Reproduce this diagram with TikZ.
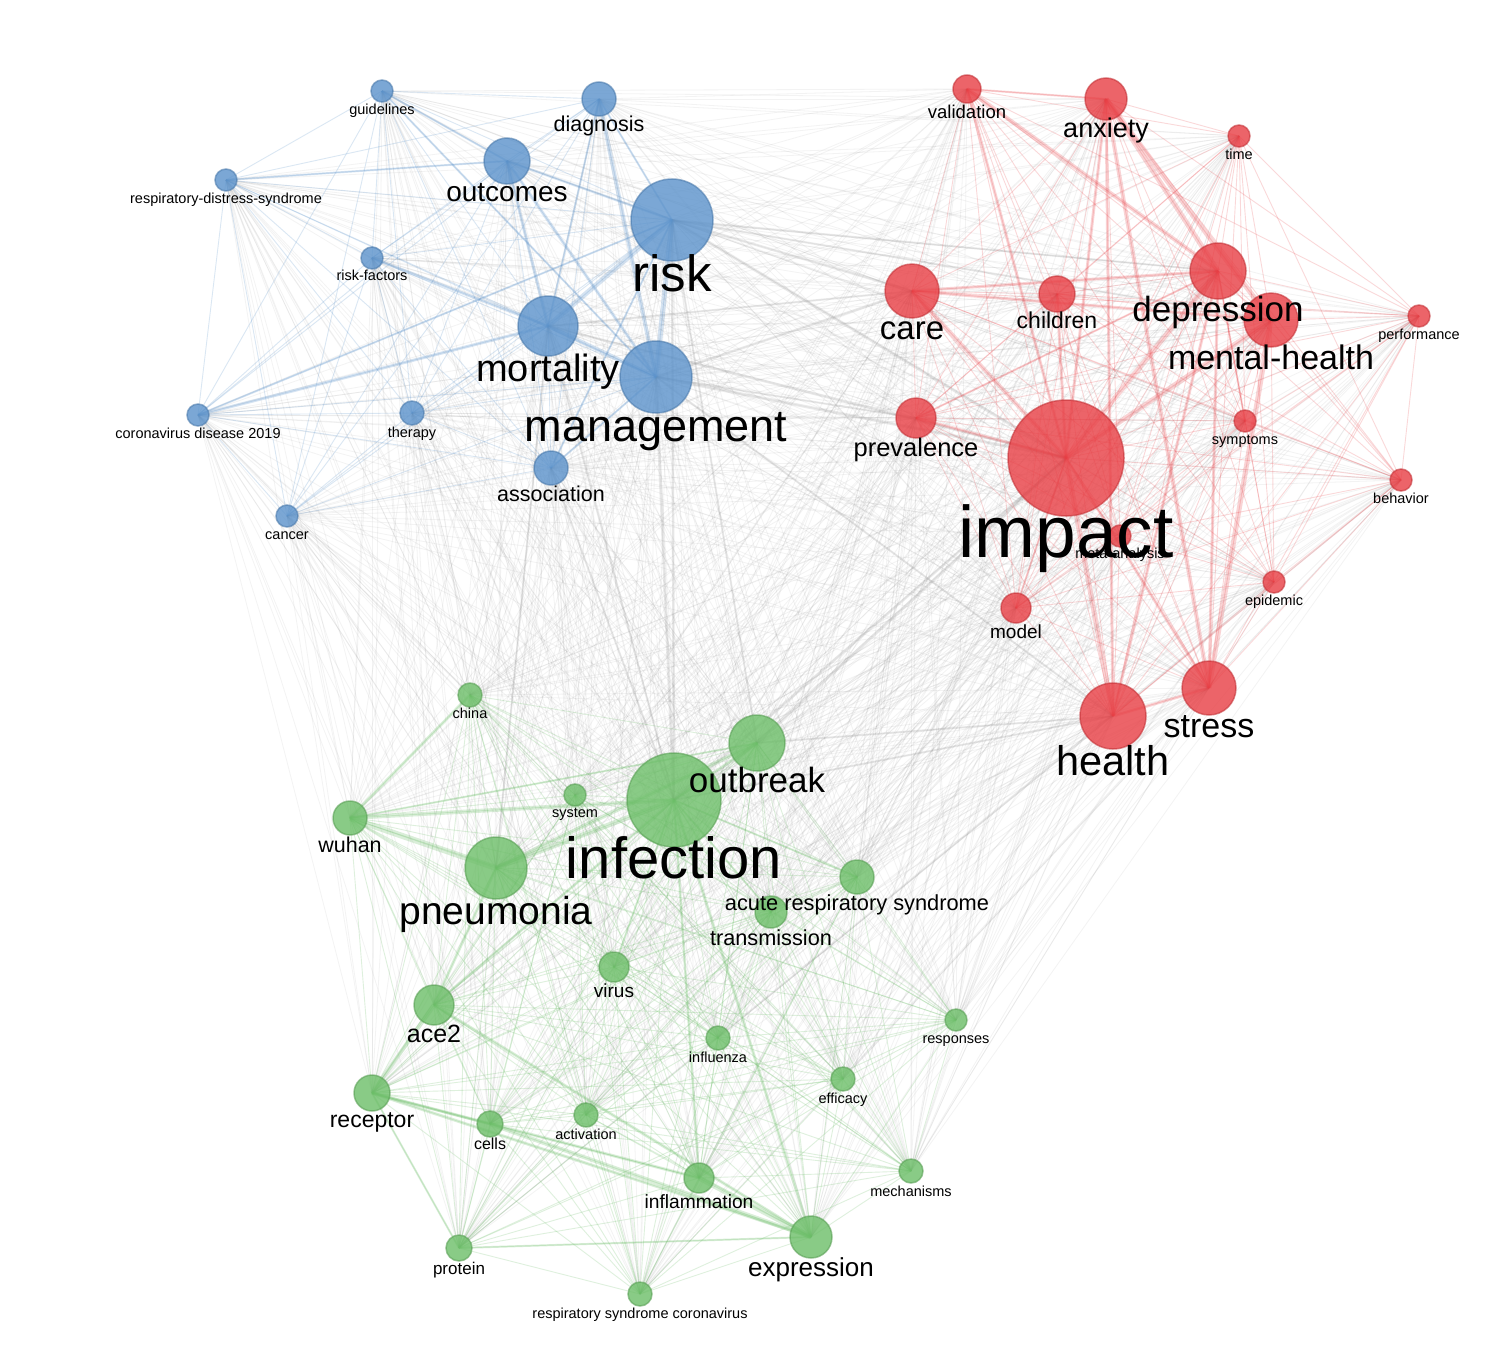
\documentclass[tikz,border=0pt]{standalone}
\usepackage{fontspec}
\setmainfont{Liberation Sans}
\pgfdeclarelayer{background}
\pgfdeclarelayer{foreground}
\pgfsetlayers{background,main,foreground}
\definecolor{bC}{RGB}{91,146,203}
\definecolor{rC}{RGB}{232,62,68}
\definecolor{gC}{RGB}{108,190,104}
\definecolor{eC}{RGB}{140,140,140}
\tikzset{
  bN/.style={circle,inner sep=0pt,fill=bC,fill opacity=0.8,draw=bC!85!black,draw opacity=0.6,line width=1.5pt},
  rN/.style={circle,inner sep=0pt,fill=rC,fill opacity=0.8,draw=rC!85!black,draw opacity=0.6,line width=1.5pt},
  gN/.style={circle,inner sep=0pt,fill=gC,fill opacity=0.8,draw=gC!85!black,draw opacity=0.6,line width=1.5pt},
  lab/.style={anchor=mid,inner sep=0pt,text=black},
  be/.style={bC,line width=0.9pt,opacity=0.22},
  re/.style={rC,line width=0.9pt,opacity=0.2},
  ge/.style={gC,line width=0.9pt,opacity=0.22},
  xe/.style={eC,line width=0.8pt,opacity=0.1},
}
\newcommand\kwn[8]{%
  \node[#1,minimum size=#5pt] (#2) at (#3,#4) {};
  \begin{pgfonlayer}{foreground}
    \node[lab,font=\fontsize{#7pt}{#7pt}\selectfont,yshift={-0.25*#7pt}] (#2-l) at (#3,#8) {#6};
  \end{pgfonlayer}}
\def\bluelist{guidelines,diagnosis,outcomes,rds,risk,riskfactors,mortality,management,cd19,therapy,association,cancer}
\def\redlist{validation,anxiety,time,depression,care,children,mentalhealth,performance,prevalence,symptoms,impact,behavior,meta,epidemic,model,stress,health}
\def\greenlist{china,outbreak,infection,system,wuhan,pneumonia,ars,transmission,virus,ace2,responses,influenza,efficacy,receptor,cells,activation,mechanisms,inflammation,expression,protein,rsc}
\begin{document}
\begin{tikzpicture}[x=1pt,y=-1pt]
\useasboundingbox (0,0) rectangle (1496,1370);
% blue cluster
\kwn{bN}{guidelines}{382}{91}{22}{guidelines}{14.5}{108}
\kwn{bN}{diagnosis}{599}{99}{34}{diagnosis}{21.5}{123}
\kwn{bN}{outcomes}{507}{161}{46}{outcomes}{28}{192}
\kwn{bN}{rds}{226}{180}{22}{respiratory-distress-syndrome}{14.5}{197}
\kwn{bN}{risk}{672}{220}{82}{risk}{51}{276}
\kwn{bN}{riskfactors}{372}{258}{22}{risk-factors}{14.5}{274}
\kwn{bN}{mortality}{548}{326}{60}{mortality}{38}{369}
\kwn{bN}{management}{656}{377}{72}{management}{45}{428}
\kwn{bN}{cd19}{198}{415}{22}{coronavirus disease 2019}{14.5}{432}
\kwn{bN}{therapy}{412}{413}{24}{therapy}{14.5}{431}
\kwn{bN}{association}{551}{468}{34}{association}{21.5}{493}
\kwn{bN}{cancer}{287}{516}{22}{cancer}{14.5}{533}
% red cluster
\kwn{rN}{validation}{967}{89}{28}{validation}{18.5}{111}
\kwn{rN}{anxiety}{1106}{99}{42}{anxiety}{27}{128}
\kwn{rN}{time}{1239}{136}{22}{time}{14.5}{153}
\kwn{rN}{depression}{1218}{271}{56}{depression}{35}{310}
\kwn{rN}{care}{912}{291}{54}{care}{33}{329}
\kwn{rN}{children}{1057}{294}{36}{children}{23}{320}
\kwn{rN}{mentalhealth}{1271}{320}{54}{mental-health}{34}{358}
\kwn{rN}{performance}{1419}{316}{22}{performance}{14.5}{333}
\kwn{rN}{prevalence}{916}{418}{40}{prevalence}{25.5}{447}
\kwn{rN}{symptoms}{1245}{421}{22}{symptoms}{14.5}{438}
\kwn{rN}{impact}{1066}{458}{116}{impact}{73}{537}
\kwn{rN}{behavior}{1401}{480}{22}{behavior}{14.5}{497}
\kwn{rN}{meta}{1120}{536}{22}{meta-analysis}{14.5}{552}
\kwn{rN}{epidemic}{1274}{582}{22}{epidemic}{14.5}{599}
\kwn{rN}{model}{1016}{608}{30}{model}{19}{631}
\kwn{rN}{stress}{1209}{688}{54}{stress}{34}{726}
\kwn{rN}{health}{1113}{716}{66}{health}{41.5}{762}
% green cluster
\kwn{gN}{china}{470}{695}{24}{china}{14.5}{712}
\kwn{gN}{outbreak}{757}{743}{56}{outbreak}{35}{781}
\kwn{gN}{infection}{674}{800}{94}{infection}{58}{861}
\kwn{gN}{system}{575}{795}{22}{system}{14.5}{811}
\kwn{gN}{wuhan}{350}{818}{34}{wuhan}{21.5}{844}
\kwn{gN}{pneumonia}{496}{868}{62}{pneumonia}{39}{912}
\kwn{gN}{ars}{857}{877}{34}{acute respiratory syndrome}{21.8}{902}
\kwn{gN}{transmission}{771}{912}{32}{transmission}{21.7}{937}
\kwn{gN}{virus}{614}{967}{30}{virus}{19}{990}
\kwn{gN}{ace2}{434}{1005}{40}{ace2}{25}{1034}
\kwn{gN}{responses}{956}{1020}{22}{responses}{14.5}{1037}
\kwn{gN}{influenza}{718}{1038}{24}{influenza}{14.5}{1056}
\kwn{gN}{efficacy}{843}{1079}{24}{efficacy}{14.5}{1097}
\kwn{gN}{receptor}{372}{1093}{36}{receptor}{23}{1119}
\kwn{gN}{cells}{490}{1124}{26}{cells}{16}{1143}
\kwn{gN}{activation}{586}{1115}{24}{activation}{14.5}{1133}
\kwn{gN}{mechanisms}{911}{1171}{24}{mechanisms}{14.5}{1190}
\kwn{gN}{inflammation}{699}{1178}{30}{inflammation}{19.2}{1201}
\kwn{gN}{expression}{811}{1237}{42}{expression}{26}{1267}
\kwn{gN}{protein}{459}{1248}{26}{protein}{17}{1268}
\kwn{gN}{rsc}{640}{1294}{24}{respiratory syndrome coronavirus}{14.5}{1312}
\begin{pgfonlayer}{background}
\fill[white] (0,0) rectangle (1496,1370);
% inter-cluster grey links
\foreach \a in \bluelist {\foreach \b in \redlist {\draw[xe] (\a.center) -- (\b.center);}}
\foreach \a in \bluelist {\foreach \b in \greenlist {\draw[xe] (\a.center) -- (\b.center);}}
\foreach \a in \redlist {\foreach \b in \greenlist {\draw[xe] (\a.center) -- (\b.center);}}
% heavier grey links
\foreach \a/\b/\w in {risk/impact/3,management/impact/3,mortality/impact/2.5,risk/care/2.5,outbreak/impact/3,infection/impact/2.5,management/infection/3,risk/infection/2.5,management/health/2,mortality/care/2,risk/depression/2,management/prevalence/2,infection/health/2,outbreak/health/2,risk/mentalhealth/2,mortality/infection/2,association/infection/2,management/care/2.5,outbreak/risk/2,pneumonia/mortality/2}
  {\draw[eC,opacity=0.18,line width=\w pt] (\a.center) -- (\b.center);}
% intra-cluster links
\foreach \a [count=\i] in \bluelist {\foreach \b [count=\j] in \bluelist {\ifnum\j>\i \draw[be] (\a.center) -- (\b.center);\fi}}
\foreach \a [count=\i] in \redlist {\foreach \b [count=\j] in \redlist {\ifnum\j>\i \draw[re] (\a.center) -- (\b.center);\fi}}
\foreach \a [count=\i] in \greenlist {\foreach \b [count=\j] in \greenlist {\ifnum\j>\i \draw[ge] (\a.center) -- (\b.center);\fi}}
% heavier blue links
\foreach \a/\b/\w in {risk/management/5,risk/mortality/5,mortality/management/4,outcomes/management/3,diagnosis/management/4,outcomes/mortality/3,riskfactors/mortality/3,cd19/mortality/3,guidelines/management/2,outcomes/risk/2.5,diagnosis/risk/2,association/risk/2,association/management/2,cd19/risk/2,rds/outcomes/2,guidelines/outcomes/2,diagnosis/mortality/2}
  {\draw[bC,opacity=0.25,line width=\w pt] (\a.center) -- (\b.center);}
% heavier red links
\foreach \a/\b/\w in {validation/depression/4,anxiety/depression/5,anxiety/mentalhealth/5,anxiety/stress/4,depression/impact/5,care/impact/4,impact/health/5,impact/mentalhealth/5,stress/mentalhealth/5,depression/stress/3,anxiety/impact/3,validation/impact/3,prevalence/impact/3,health/stress/3,depression/health/3,care/depression/3,care/mentalhealth/3,children/impact/3,impact/stress/3,anxiety/health/3,prevalence/depression/2,validation/anxiety/2,model/impact/2,symptoms/depression/2}
  {\draw[rC,opacity=0.22,line width=\w pt] (\a.center) -- (\b.center);}
% heavier green links
\foreach \a/\b/\w in {wuhan/pneumonia/6,wuhan/infection/4,pneumonia/infection/5,pneumonia/outbreak/4,infection/outbreak/3,ace2/receptor/4,cells/expression/4,inflammation/expression/5,receptor/expression/3,ace2/expression/3,receptor/inflammation/3,infection/expression/3,pneumonia/ace2/3,china/wuhan/3,ace2/infection/2.5,infection/inflammation/2.5,receptor/cells/2.5,protein/expression/2,virus/infection/2,wuhan/outbreak/2,infection/ars/2,infection/transmission/2,receptor/protein/2}
  {\draw[gC,opacity=0.25,line width=\w pt] (\a.center) -- (\b.center);}
\end{pgfonlayer}
\end{tikzpicture}
\end{document}
